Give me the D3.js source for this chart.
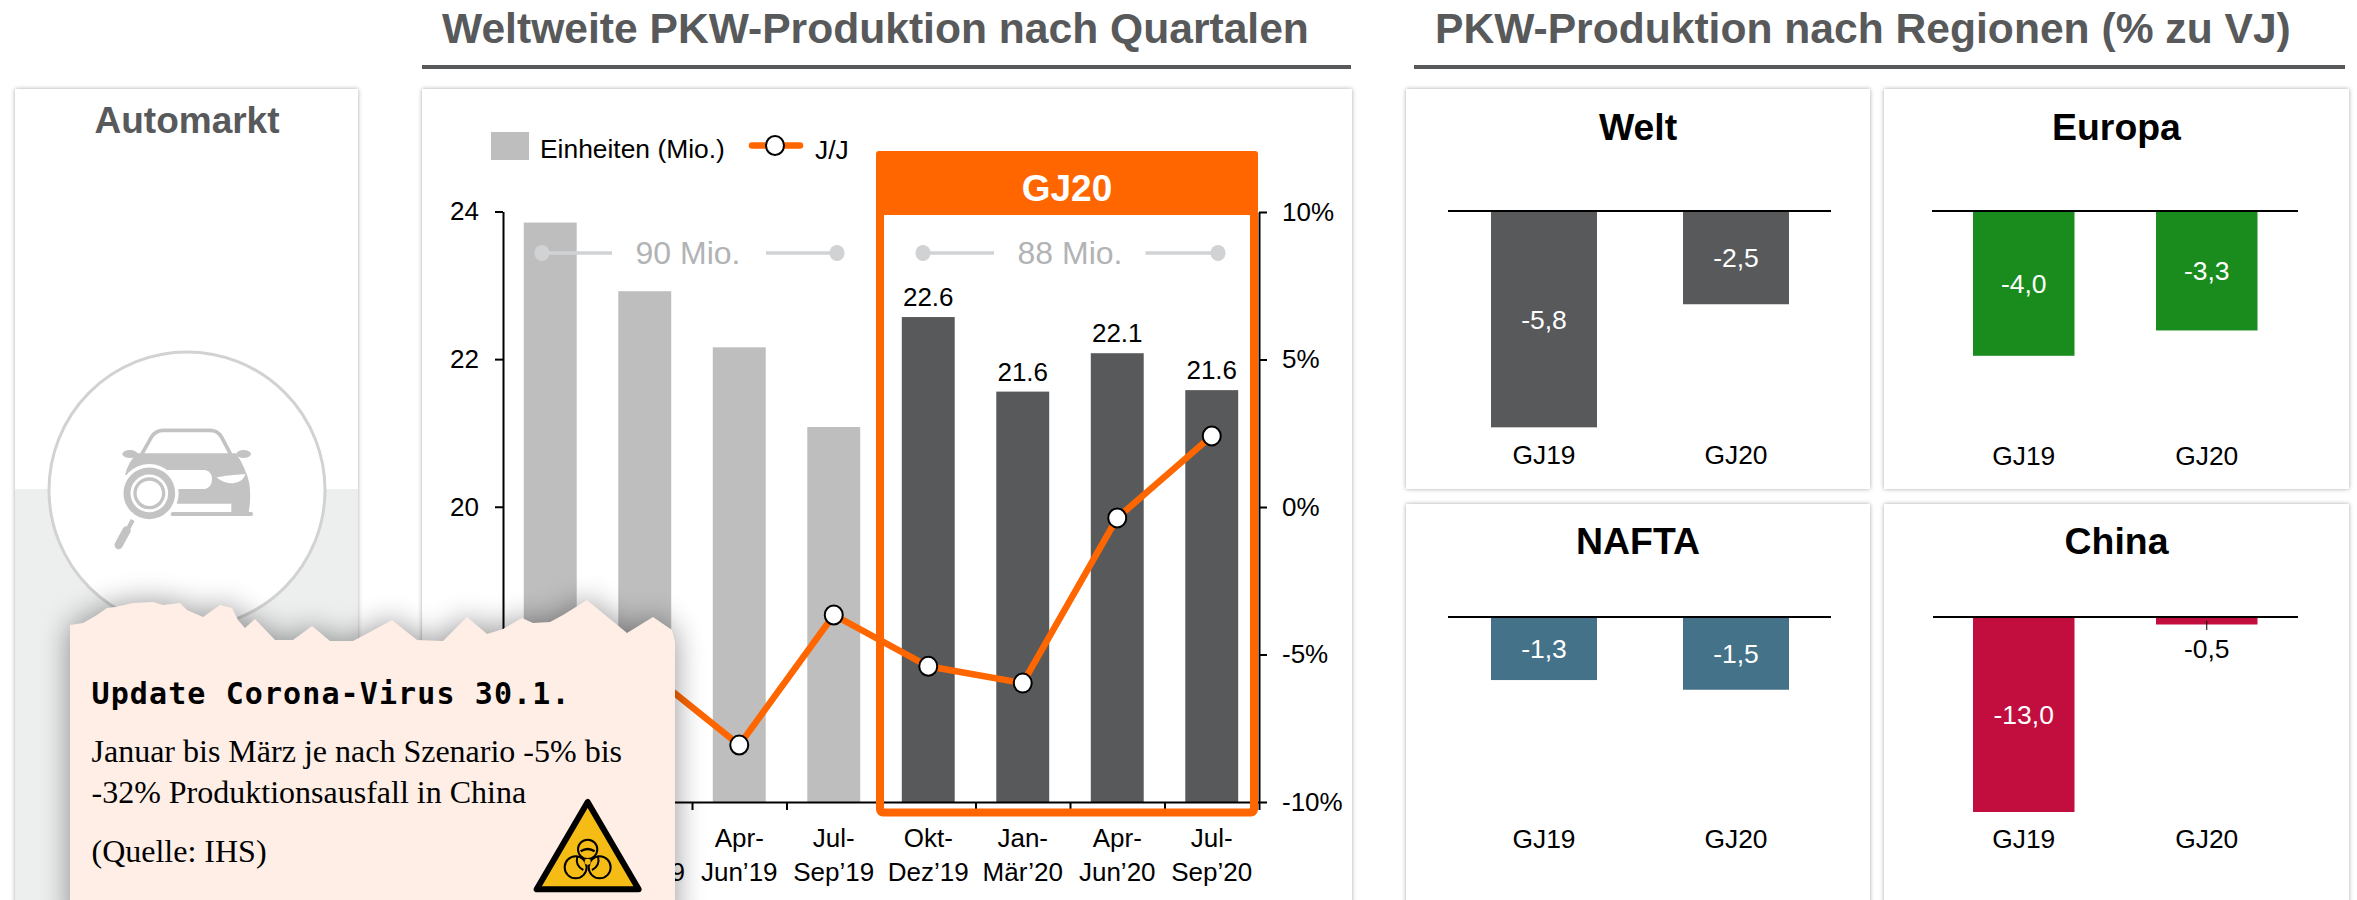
<!DOCTYPE html>
<html><head><meta charset="utf-8">
<script src="https://cdn.jsdelivr.net/npm/d3@7/dist/d3.min.js"></script>
<style>
html,body{margin:0;padding:0;background:#fff;overflow:hidden}
svg{display:block}
text{font-family:"Liberation Sans",Arial,sans-serif}
</style></head><body>
<svg id="c" width="2357" height="900" viewBox="0 0 2357 900"></svg>
<script>
// ---------- data ----------
const quarterLine1 = ["Okt-","Jan-","Apr-","Jul-","Okt-","Jan-","Apr-","Jul-"];
const quarterLine2 = ["Dez’18","Mär’19","Jun’19","Sep’19","Dez’19","Mär’20","Jun’20","Sep’20"];
const units = [23.85,22.92,22.16,21.08,22.57,21.56,22.08,21.58];
const unitLabels = [null,null,null,null,"22.6","21.6","22.1","21.6"];
const yoy = [-4.6,-5.5,-8.07,-3.66,-5.4,-5.97,-0.37,2.41];
const leftTicks = [16,18,20,22,24];
const rightTicks = [-10,-5,0,5,10];
const regionYears = ["GJ19","GJ20"];
const weltValues = [-5.8,-2.5];
const europaValues = [-4.0,-3.3];
const naftaValues = [-1.3,-1.5];
const chinaValues = [-13.0,-0.5];
const fmtDE = v => v.toFixed(1).replace(".",",");

const svg = d3.select("#c");
const defs = svg.append("defs");
const f1 = defs.append("filter").attr("id","card").attr("x","-5%").attr("y","-5%").attr("width","110%").attr("height","110%");
f1.append("feDropShadow").attr("dx",0).attr("dy",0).attr("stdDeviation",2).attr("flood-color","#8a8a8a").attr("flood-opacity",.75);
const f2 = defs.append("filter").attr("id","blur").attr("x","-20%").attr("y","-30%").attr("width","140%").attr("height","160%");
f2.append("feGaussianBlur").attr("stdDeviation",15);

const GREY="#58595b", ORANGE="#FF6600", LIGHT="#bebebe", DOT="#d1d2d4";
const txt=(g,x,y,s,size,o={})=>g.append("text").attr("x",x).attr("y",y).text(s)
  .attr("font-size",size).attr("font-weight",o.w||"normal").attr("fill",o.c||"#000")
  .attr("text-anchor",o.a||"start").style("font-family",o.f||null).attr("letter-spacing",o.ls||null);
const card=(x,y,w,h)=>svg.append("rect").attr("x",x).attr("y",y).attr("width",w).attr("height",h).attr("fill","#fff").attr("filter","url(#card)");

// ---------- titles ----------
txt(svg,442,43,"Weltweite PKW-Produktion nach Quartalen",42.6,{w:"bold",c:GREY});
svg.append("rect").attr("x",422).attr("y",65).attr("width",929).attr("height",4).attr("fill",GREY);
txt(svg,1435,43,"PKW-Produktion nach Regionen (% zu VJ)",42.6,{w:"bold",c:GREY});
svg.append("rect").attr("x",1414).attr("y",65).attr("width",931).attr("height",4).attr("fill",GREY);

// ---------- Automarkt card ----------
card(15,89,343,830);
svg.append("rect").attr("x",15).attr("y",489).attr("width",343).attr("height",430).attr("fill","#ecefee");
txt(svg,187,133,"Automarkt",37,{w:"bold",c:GREY,a:"middle"});
svg.append("circle").attr("cx",187).attr("cy",490).attr("r",138).attr("fill","#fff").attr("stroke","#d2d2d2").attr("stroke-width",3);
const ic = svg.append("g").attr("transform","translate(100,415) scale(0.3333)");
const IC="#c3c3c3";
ic.append("path").attr("d","M125 118 L155 65 Q168 46 190 46 L330 46 Q352 46 364 65 L392 118").attr("fill","none").attr("stroke",IC).attr("stroke-width",11);
ic.append("path").attr("d","M112 115 L408 115 Q438 160 448 205 Q454 250 446 292 L394 292 L394 266 L230 266 L150 180 L75 180 Q85 140 112 115Z").attr("fill",IC);
ic.append("ellipse").attr("cx",90).attr("cy",117).attr("rx",23).attr("ry",12).attr("fill",IC);
ic.append("ellipse").attr("cx",431).attr("cy",117).attr("rx",22).attr("ry",12).attr("fill",IC);
ic.append("path").attr("d","M190 165 L315 165 Q336 170 336 192 Q336 216 315 222 L225 222 Z").attr("fill","#fff");
ic.append("path").attr("d","M350 187 Q395 180 436 177 Q432 200 400 205 Q370 206 350 187Z").attr("fill","#fff");
ic.append("rect").attr("x",212).attr("y",291).attr("width",247).attr("height",12).attr("rx",5).attr("fill",IC);
ic.append("circle").attr("cx",148).attr("cy",235).attr("r",88).attr("fill","#fff");
ic.append("circle").attr("cx",148).attr("cy",235).attr("r",67).attr("fill","none").attr("stroke",IC).attr("stroke-width",21);
ic.append("circle").attr("cx",148).attr("cy",235).attr("r",43).attr("fill","none").attr("stroke",IC).attr("stroke-width",10);
ic.append("line").attr("x1",98).attr("y1",315).attr("x2",86).attr("y2",338).attr("stroke",IC).attr("stroke-width",13);
ic.append("line").attr("x1",80).attr("y1",346).attr("x2",56).attr("y2",390).attr("stroke",IC).attr("stroke-width",25).attr("stroke-linecap","round");

// ---------- main chart ----------
card(422,89,930,830);
const x = d3.scaleBand().domain(d3.range(units.length)).range([503,1259]).paddingInner(0.44).paddingOuter(0.22);
const yL = d3.scaleLinear().domain([16,24]).range([802,211.5]);
const yR = d3.scaleLinear().domain([-10,10]).range([802,212]);
const cx = i => x(i)+x.bandwidth()/2;
const main = svg.append("g");
main.selectAll("rect.bar").data(units).join("rect").attr("class","bar")
  .attr("x",(d,i)=>x(i)).attr("width",x.bandwidth()).attr("y",d=>yL(d)).attr("height",d=>yL(16)-yL(d))
  .attr("fill",(d,i)=>i<4?LIGHT:GREY);
main.selectAll("text.val").data(unitLabels).join("text").attr("class","val")
  .attr("x",(d,i)=>cx(i)).attr("y",(d,i)=>yL(units[i])-11).attr("text-anchor","middle").attr("font-size",26).text(d=>d);

const axL = main.append("g").attr("transform","translate(503,0)").call(d3.axisLeft(yL).tickValues(leftTicks).tickSize(8).tickPadding(16).tickSizeOuter(0));
const axR = main.append("g").attr("transform","translate(1259,0)").call(d3.axisRight(yR).tickValues(rightTicks).tickFormat(d=>d+"%").tickSize(8).tickPadding(15).tickSizeOuter(0));
[axL,axR].forEach(a=>{a.selectAll("text").attr("font-size",26).attr("font-family",null).style("font-family",'"Liberation Sans"');
  a.selectAll("path,line").attr("stroke","#000").attr("stroke-width",2);});
// category axis: ticks fall on band boundaries
const boundaries = d3.range(units.length+1);
const xB = d3.scaleLinear().domain([0,units.length]).range([503,1259]);
main.append("g").attr("transform","translate(0,802)")
  .call(d3.axisBottom(xB).tickValues(boundaries).tickSize(8).tickSizeOuter(0).tickFormat(""))
  .call(g=>g.selectAll("path,line").attr("stroke","#000").attr("stroke-width",2));
main.selectAll("text.q1").data(quarterLine1).join("text").attr("class","q1").attr("x",(d,i)=>cx(i)).attr("y",847).attr("text-anchor","middle").attr("font-size",26).text(d=>d);
main.selectAll("text.q2").data(quarterLine2).join("text").attr("class","q2").attr("x",(d,i)=>cx(i)).attr("y",881).attr("text-anchor","middle").attr("font-size",26).text(d=>d);

// total brackets
const bracket=(x1,xa,xb,x2,t,tx)=>{
  [[x1,xa],[xb,x2]].forEach(s=>main.append("line").attr("x1",s[0]).attr("x2",s[1]).attr("y1",253).attr("y2",253).attr("stroke",DOT).attr("stroke-width",3.5));
  [x1,x2].forEach(v=>main.append("ellipse").attr("cx",v).attr("cy",253).attr("rx",7.5).attr("ry",8).attr("fill",DOT));
  txt(main,tx,264,t,32,{c:"#b2b3b5",a:"middle"});
};
bracket(542,612,766,837,"90 Mio.",688);

// orange box
main.append("rect").attr("x",880).attr("y",155).attr("width",374).attr("height",657.5).attr("rx",3).attr("fill","none").attr("stroke",ORANGE).attr("stroke-width",8);
main.append("rect").attr("x",876).attr("y",151).attr("width",382).attr("height",64).attr("rx",3).attr("fill",ORANGE);
txt(main,1067,201,"GJ20",37,{w:"bold",c:"#fff",a:"middle"});
bracket(923,994,1145.5,1218,"88 Mio.",1070);

// line
const line = d3.line().x((d,i)=>cx(i)).y(d=>yR(d));
main.append("path").attr("d",line(yoy)).attr("fill","none").attr("stroke",ORANGE).attr("stroke-width",6.5);
main.selectAll("ellipse.pt").data(yoy).join("ellipse").attr("class","pt").attr("cx",(d,i)=>cx(i)).attr("cy",d=>yR(d)).attr("rx",9).attr("ry",9.5).attr("fill","#fff").attr("stroke","#000").attr("stroke-width",2);

// legend
main.append("rect").attr("x",491).attr("y",132).attr("width",38).attr("height",28).attr("fill",LIGHT);
txt(main,540,158,"Einheiten (Mio.)",26.4);
main.append("line").attr("x1",752).attr("x2",800).attr("y1",145.5).attr("y2",145.5).attr("stroke",ORANGE).attr("stroke-width",6.5).attr("stroke-linecap","round");
main.append("ellipse").attr("cx",775).attr("cy",145.5).attr("rx",9).attr("ry",9.5).attr("fill","#fff").attr("stroke","#000").attr("stroke-width",2);
txt(main,815,159,"J/J",26.4);

// ---------- region panels ----------
const panels = [
 {n:"Welt",vals:weltValues,col:GREY,X:1406,Y:89,W:464,H:400,lx:[1448,1831],bx:[1491,1683],bw:106,scale:37.3,lab:464,ax:211,t:140,inside:[true,true]},
 {n:"Europa",vals:europaValues,col:"#1a8c1e",X:1884,Y:89,W:465,H:400,lx:[1932,2298],bx:[1973,2156],bw:101.5,scale:36.2,lab:465,ax:211,t:140,inside:[true,true]},
 {n:"NAFTA",vals:naftaValues,col:"#447289",X:1406,Y:504,W:464,H:420,lx:[1448,1831],bx:[1491,1683],bw:106,scale:48.5,lab:848,ax:617,t:554,inside:[true,true]},
 {n:"China",vals:chinaValues,col:"#c20e3f",X:1884,Y:504,W:465,H:420,lx:[1933,2298],bx:[1973,2156],bw:101.5,scale:15,lab:848,ax:617,t:554,inside:[true,false]}
];
panels.forEach(p=>{
  card(p.X,p.Y,p.W,p.H);
  const g = svg.append("g");
  txt(g,(p.X+p.W/2),p.t,p.n,37.4,{w:"bold",a:"middle"});
  const y = d3.scaleLinear().domain([0,-1]).range([p.ax,p.ax+p.scale]);
  const xp = d3.scaleOrdinal().domain(regionYears).range(p.bx);
  g.selectAll("rect").data(p.vals).join("rect").attr("x",(d,i)=>xp(regionYears[i])).attr("width",p.bw)
    .attr("y",y(0)).attr("height",d=>y(d)-y(0)).attr("fill",p.col);
  g.append("line").attr("x1",p.lx[0]).attr("x2",p.lx[1]).attr("y1",p.ax).attr("y2",p.ax).attr("stroke","#000").attr("stroke-width",2);
  p.vals.forEach((v,i)=>{
    const c = xp(regionYears[i])+p.bw/2;
    if(p.inside[i]) txt(g,c,(y(0)+y(v))/2+9.5,fmtDE(v),26.5,{c:"#fff",a:"middle"});
    else {
      g.append("line").attr("x1",c).attr("x2",c).attr("y1",y(0)+4).attr("y2",y(0)+13).attr("stroke","#000").attr("stroke-width",1);
      txt(g,c,658,fmtDE(v),26.5,{a:"middle"});
    }
    txt(g,c,p.lab,regionYears[i],26.4,{a:"middle"});
  });
});

// ---------- note ----------
const tear = [[70,625],[83,623],[97,615],[107,608],[115,607],[133,603],[153,602],[163,605],[180,603],[187,610],[203,617],[220,605],[232,608],[238,620],[245,628],[255,619],[275,640],[293,640],[312,626],[330,641],[353,641],[370,632],[392,620],[417,640],[443,641],[467,617],[487,634],[503,629],[522,618],[533,623],[550,622],[563,615],[587,600],[627,633],[653,617],[672,630],[675,642],[675,930],[70,930]];
const tearPath = d3.line().curve(d3.curveLinear)(tear)+"Z";
svg.append("path").attr("d",tearPath).attr("fill","#000").attr("opacity",.42).attr("filter","url(#blur)");
svg.append("path").attr("d",tearPath).attr("fill","#feeee6");
txt(svg,91.5,704,"Update Corona-Virus 30.1.",30,{w:"bold",f:'"DejaVu Sans Mono"',ls:"1.1"});
const serif='"Liberation Serif"';
txt(svg,91.5,762,"Januar bis März je nach Szenario -5% bis",32,{f:serif});
txt(svg,91.5,803,"-32% Produktionsausfall in China",32,{f:serif});
txt(svg,91.5,862,"(Quelle: IHS)",32,{f:serif});
// hazard sign
const hz = svg.append("g").attr("transform","translate(520,790) scale(0.3333)");
hz.append("path").attr("d","M203 36 L50 298 L356 298 Z").attr("fill","#f5bc15").attr("stroke","#000").attr("stroke-width",18).attr("stroke-linejoin","round");
[[203,178,29],[167,232,33],[239,232,33]].forEach(c=>hz.append("circle").attr("cx",c[0]).attr("cy",c[1]).attr("r",c[2]).attr("fill","none").attr("stroke","#000").attr("stroke-width",6));
hz.append("path").attr("d","M182 184 Q203 170 224 184").attr("fill","none").attr("stroke","#000").attr("stroke-width",7);
hz.append("path").attr("d","M172 198 Q165 228 190 240 M234 198 Q241 228 216 240").attr("fill","none").attr("stroke","#000").attr("stroke-width",6);
hz.append("circle").attr("cx",203).attr("cy",215).attr("r",9).attr("fill","#f5bc15").attr("stroke","none");
</script></body></html>
